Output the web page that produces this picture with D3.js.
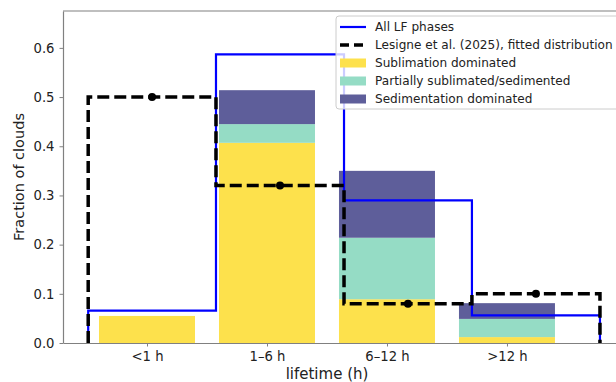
<!DOCTYPE html>
<html>
<head>
<meta charset="utf-8">
<script src="https://cdn.jsdelivr.net/npm/d3@7"></script>
<style>
  body { margin: 0; background: #fff; }
  svg { display: block; font-family: 'DejaVu Sans', sans-serif; }
</style>
</head>
<body>
<div id="chart"></div>
<script>
const categories = ['<1 h', '1–6 h', '6–12 h', '>12 h']
const sublimation = [0.055, 0.407, 0.089, 0.012]
const partial = [0, 0.038, 0.125, 0.037]
const sedimentation = [0, 0.069, 0.136, 0.032]
const allPhases = [0.066, 0.587, 0.290, 0.056]
const lesigne = [0.50, 0.32, 0.08, 0.10]
const stepEdges = [-0.49, 0.575, 1.642, 2.708, 3.775]
const yTicks = [0, 0.1, 0.2, 0.3, 0.4, 0.5, 0.6]

const colors = {
  sub: '#fde14c',
  part: '#95dcc5',
  sed: '#5e5e9a',
  spine: '#808080',
  text: '#222'
}

const width = 616
const height = 382
const margin = { top: 11, right: -1, bottom: 39, left: 63 }

const svg = d3.select('#chart').append('svg')
  .attr('width', width)
  .attr('height', height)

const x = d3.scaleLinear()
  .domain([-0.7, 3.917])
  .range([margin.left, width - margin.right])

const y = d3.scaleLinear()
  .domain([0, 0.675])
  .range([height - margin.bottom, margin.top])

const barW = x(0.8) - x(0)

// stacked bars
const stack = [
  { key: 'sub', vals: sublimation },
  { key: 'part', vals: partial },
  { key: 'sed', vals: sedimentation }
]
categories.forEach((c, i) => {
  let base = 0
  stack.forEach(s => {
    const v = s.vals[i]
    if (v > 0) {
      svg.append('rect')
        .attr('x', x(i) - barW / 2)
        .attr('width', barW)
        .attr('y', y(base + v))
        .attr('height', y(base) - y(base + v))
        .attr('fill', colors[s.key])
    }
    base += v
  })
})

const stepPoints = vals => {
  const pts = [[stepEdges[0], 0]]
  vals.forEach((v, i) => {
    pts.push([stepEdges[i], v])
    pts.push([stepEdges[i + 1], v])
  })
  pts.push([stepEdges[stepEdges.length - 1], 0])
  return pts
}

const line = d3.line().x(d => x(d[0])).y(d => y(d[1]))

svg.append('path')
  .attr('d', line(stepPoints(allPhases)))
  .attr('fill', 'none')
  .attr('stroke', '#0000ff')
  .attr('stroke-width', 2.2)

svg.append('path')
  .attr('d', line(stepPoints(lesigne)))
  .attr('fill', 'none')
  .attr('stroke', '#000')
  .attr('stroke-width', 3.5)
  .attr('stroke-dasharray', '12,5')

svg.selectAll('.dot').data(lesigne)
  .enter().append('circle')
  .attr('class', 'dot')
  .attr('cx', (d, i) => x((stepEdges[i] + stepEdges[i + 1]) / 2))
  .attr('cy', d => y(d))
  .attr('r', 4)
  .attr('fill', '#000')

// axes
const gx = svg.append('g')
  .attr('transform', `translate(0,${height - margin.bottom})`)
  .call(d3.axisBottom(x).tickValues(d3.range(categories.length))
    .tickFormat(i => categories[i]).tickSize(3.5).tickSizeOuter(0).tickPadding(5))

const gy = svg.append('g')
  .attr('transform', `translate(${margin.left},0)`)
  .call(d3.axisLeft(y).tickValues(yTicks).tickFormat(d3.format('.1f'))
    .tickSize(3.5).tickSizeOuter(0).tickPadding(5))

;[gx, gy].forEach(g => {
  g.select('.domain').attr('stroke', colors.spine).attr('stroke-width', 1.2)
  g.selectAll('.tick line').attr('stroke', colors.spine).attr('stroke-width', 1)
  g.selectAll('.tick text').attr('fill', colors.text).attr('font-size', 13.2)
    .attr('font-family', 'DejaVu Sans')
})

svg.append('line')
  .attr('x1', margin.left).attr('x2', width)
  .attr('y1', margin.top).attr('y2', margin.top)
  .attr('stroke', colors.spine).attr('stroke-width', 1.2)

svg.append('text')
  .attr('x', 327)
  .attr('y', 379)
  .attr('text-anchor', 'middle')
  .attr('font-size', 15)
  .attr('fill', colors.text)
  .text('lifetime (h)')

svg.append('text')
  .attr('transform', `translate(24,${(margin.top + height - margin.bottom) / 2}) rotate(-90)`)
  .attr('text-anchor', 'middle')
  .attr('font-size', 14.5)
  .attr('fill', colors.text)
  .text('Fraction of clouds')

// legend
const legend = svg.append('g').attr('transform', 'translate(336,16)')
legend.append('rect')
  .attr('x', 0).attr('y', 0)
  .attr('width', 300).attr('height', 93)
  .attr('rx', 3)
  .attr('fill', 'rgba(255,255,255,0.8)')
  .attr('stroke', '#cccccc')
  .attr('stroke-width', 1)

const items = [
  { label: 'All LF phases', type: 'line', color: '#0000ff' },
  { label: 'Lesigne et al. (2025), fitted distribution', type: 'dash', color: '#000' },
  { label: 'Sublimation dominated', type: 'patch', color: colors.sub },
  { label: 'Partially sublimated/sedimented', type: 'patch', color: colors.part },
  { label: 'Sedimentation dominated', type: 'patch', color: colors.sed }
]

items.forEach((it, i) => {
  const cy = 11 + i * 18
  if (it.type === 'patch') {
    legend.append('rect')
      .attr('x', 4).attr('y', cy - 4.5)
      .attr('width', 26).attr('height', 9)
      .attr('fill', it.color)
  } else {
    legend.append('line')
      .attr('x1', 4).attr('x2', 30)
      .attr('y1', cy).attr('y2', cy)
      .attr('stroke', it.color)
      .attr('stroke-width', it.type === 'dash' ? 3.5 : 2.2)
      .attr('stroke-dasharray', it.type === 'dash' ? '9,5' : null)
  }
  legend.append('text')
    .attr('x', 39).attr('y', cy + 4.3)
    .attr('font-size', 12.1)
    .attr('fill', colors.text)
    .text(it.label)
})
</script>
</body>
</html>
